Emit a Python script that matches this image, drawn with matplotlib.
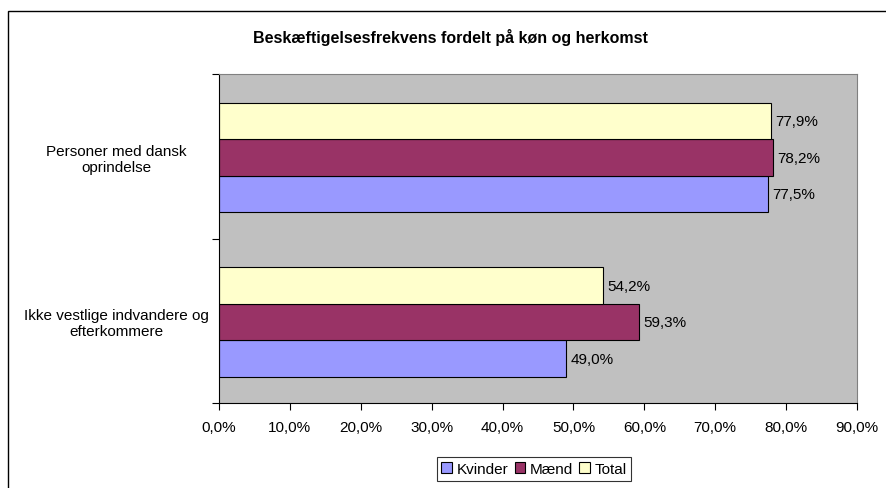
import matplotlib.pyplot as plt
from matplotlib.patches import Rectangle, Patch
from matplotlib.ticker import FixedLocator, FuncFormatter

plt.rcParams['font.family'] = ['Liberation Sans', 'DejaVu Sans']

groups = ['Ikke vestlige indvandere og\nefterkommere', 'Personer med dansk\noprindelse']
kvinder = [49.0, 77.5]
maend = [59.3, 78.2]
total = [54.2, 77.9]
series_names = ['Kvinder', 'Mænd', 'Total']
colors = ['#9999FF', '#993366', '#FFFFCC']

fig = plt.figure(figsize=(8.86, 4.89), dpi=100)
fig.patches.append(Rectangle((8 / 886, -0.2), 1.2, 1.2 - 12 / 489, transform=fig.transFigure,
                             fill=False, edgecolor='black', linewidth=1))
ax = fig.add_axes([219 / 886, 1 - 404 / 489, 638 / 886, 329 / 489])
ax.set_facecolor('#C0C0C0')

h = 0.222
offsets = [-h, 0, h]
for vals, off, c in zip([kvinder, maend, total], offsets, colors):
    for i, v in enumerate(vals):
        ax.barh(i + off - 0.008, v, height=h, color=c, edgecolor='black', linewidth=0.8)
        ax.text(v + 0.6, i + off - 0.008, ('%.1f%%' % v).replace('.', ','), va='center', ha='left', fontsize=11)

ax.set_xlim(0, 90)
ax.set_ylim(-0.5, 1.5)
ax.xaxis.set_major_locator(FixedLocator(range(0, 91, 10)))
ax.xaxis.set_major_formatter(FuncFormatter(lambda x, p: ('%.1f%%' % x).replace('.', ',')))
ax.tick_params(axis='x', length=5, width=0.8, labelsize=11, pad=7)
ax.set_yticks([0, 1])
ax.set_yticklabels(groups, fontsize=11, ha='center', multialignment='center')
ax.tick_params(axis='y', which='major', length=0, pad=74)
ax.set_yticks([-0.5, 0.5, 1.5], minor=True)
ax.tick_params(axis='y', which='minor', length=5, width=0.8)
for s in ['top', 'right']:
    ax.spines[s].set_color('#808080')
for s in ['left', 'bottom']:
    ax.spines[s].set_color('black')

fig.text(450 / 886, 1 - 38 / 489, 'Beskæftigelsesfrekvens fordelt på køn og herkomst',
         ha='center', va='center', fontsize=11.5, fontweight='bold')

handles = [Patch(facecolor=c, edgecolor='black', linewidth=0.8) for c in colors]
leg = fig.legend(handles, series_names, loc='center', bbox_to_anchor=(534 / 886, 1 - 470 / 489),
                 ncol=3, fontsize=11, frameon=True, fancybox=False, edgecolor='black',
                 handlelength=0.7, handleheight=0.7, handletextpad=0.3, columnspacing=0.4,
                 borderpad=0.3, borderaxespad=0)
leg.get_frame().set_linewidth(0.8)

fig.savefig('out.png', dpi=100)
